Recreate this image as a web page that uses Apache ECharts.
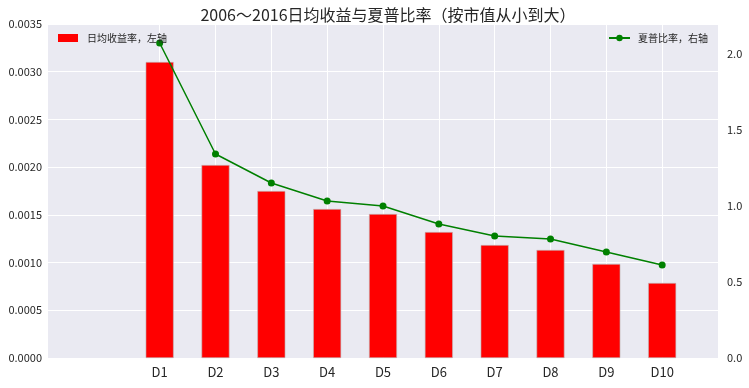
<!DOCTYPE html>
<html><head><meta charset="utf-8">
<script src="https://cdn.jsdelivr.net/npm/echarts@6/dist/echarts.min.js"></script>
<style>html,body{margin:0;padding:0;background:#fff}#c{width:749px;height:388px}</style>
</head><body><div id="c"></div>
<script>
const categories = ['', '', 'D1','D2','D3','D4','D5','D6','D7','D8','D9','D10',''];
const dailyReturn = [null, null, 0.003102, 0.002022, 0.00175, 0.001561, 0.001509, 0.00132, 0.001184, 0.001132, 0.000985, 0.000786, null];
const sharpe = [null, null, 2.072, 1.342, 1.151, 1.033, 1.0, 0.882, 0.803, 0.783, 0.697, 0.612, null];
const leftTicks = {min: 0, max: 0.0035, interval: 0.0005};
const rightTicks = {min: 0, max: 2.197, interval: 0.5};

const font = '"Noto Sans CJK SC", "DejaVu Sans", sans-serif';
const chart = echarts.init(document.getElementById('c'), null, {renderer: 'canvas'});
chart.setOption({
  animation: false,
  backgroundColor: '#fff',
  title: {
    text: '2006～2016日均收益与夏普比率（按市值从小到大）',
    left: 383, top: 2, textAlign: 'center',
    textStyle: {fontFamily: font, fontSize: 16, fontWeight: 'normal', color: '#262626'}
  },
  grid: {left: 48, right: 31, top: 24, bottom: 30, backgroundColor: '#EAEAF2', show: true, borderWidth: 0},
  legend: [
    {data: [{name: '日均收益率，左轴', icon: 'rect', itemStyle: {borderWidth: 0}}], left: 58, top: 33, padding: 0,
     itemWidth: 20, itemHeight: 8,
     textStyle: {fontFamily: font, fontSize: 10, color: '#262626', padding: [0, 0, 0, 4]}},
    {data: [{name: '夏普比率，右轴'}], right: 41, top: 33, padding: 0, itemWidth: 21, itemHeight: 8,
     textStyle: {fontFamily: font, fontSize: 10, color: '#262626', padding: [0, 0, 0, 3]}}
  ],
  xAxis: {
    type: 'category', data: categories, boundaryGap: false,
    axisLine: {show: false}, axisTick: {show: false},
    axisLabel: {fontFamily: font, fontSize: 13, color: '#262626', margin: 8, interval: 0},
    splitLine: {show: true, lineStyle: {color: '#fff', width: 1},
      interval: function (i) { return i >= 2 && i <= 11; }}
  },
  yAxis: [
    {type: 'value', min: leftTicks.min, max: leftTicks.max, interval: leftTicks.interval,
     axisLine: {show: false}, axisTick: {show: false},
     axisLabel: {fontFamily: font, fontSize: 11, color: '#262626', margin: 6,
       formatter: v => v.toFixed(4)},
     splitLine: {lineStyle: {color: '#fff', width: 1}}},
    {type: 'value', min: rightTicks.min, max: rightTicks.max, interval: rightTicks.interval,
     axisLine: {show: false}, axisTick: {show: false},
     axisLabel: {fontFamily: font, fontSize: 11, color: '#262626', margin: 9, showMaxLabel: false,
       formatter: v => v.toFixed(1)},
     splitLine: {show: false}}
  ],
  series: [
    {name: '日均收益率，左轴', type: 'bar', data: dailyReturn, yAxisIndex: 0, barWidth: 28,
     itemStyle: {color: '#FF0000', borderColor: '#BDBDBD', borderWidth: 0.6}},
    {name: '夏普比率，右轴', type: 'line', data: sharpe, yAxisIndex: 1,
     symbol: 'circle', symbolSize: 7, connectNulls: false,
     lineStyle: {color: '#008000', width: 1.5}, itemStyle: {color: '#008000'}}
  ]
});
</script></body></html>
